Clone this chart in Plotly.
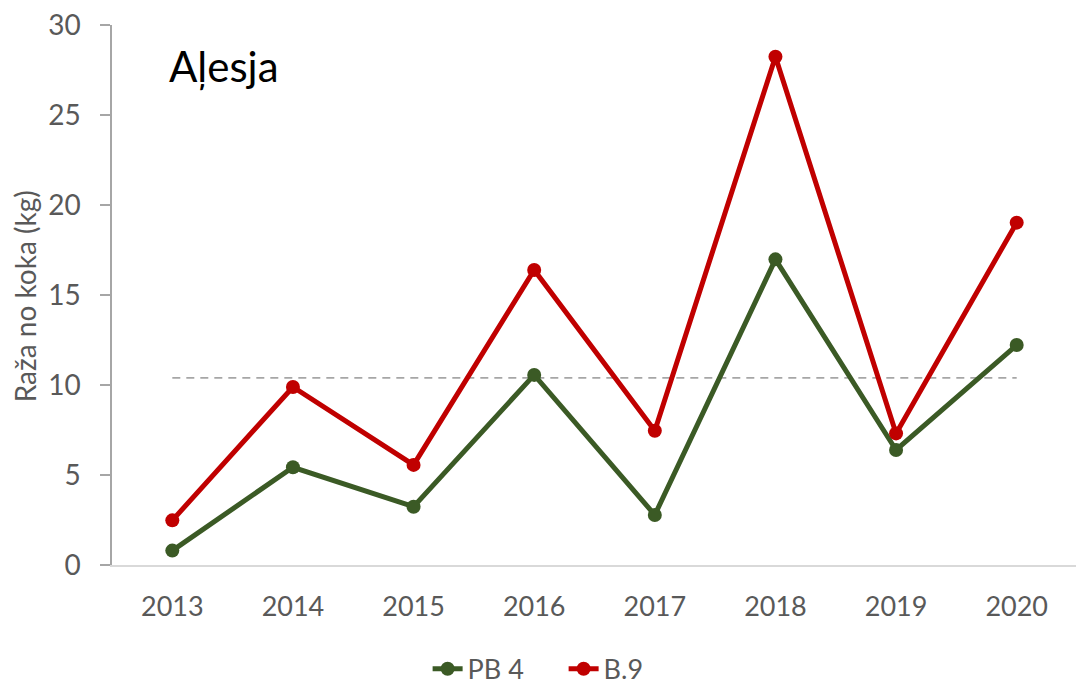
import plotly.graph_objects as go

years = ["2013", "2014", "2015", "2016", "2017", "2018", "2019", "2020"]
pb4 = [0.80, 5.43, 3.24, 10.56, 2.78, 16.98, 6.39, 12.22]
b9 = [2.48, 9.89, 5.56, 16.39, 7.46, 28.24, 7.31, 19.02]
avg_line = [10.4, 10.4, 10.4, 10.4, 10.4, 10.4, 10.4, 10.4]
y_ticks = [0, 5, 10, 15, 20, 25, 30]

FONT = "Lato"
GRAY = "#595959"
GREEN = "#3B5A25"
RED = "#C00000"

fig = go.Figure()
fig.add_trace(go.Scatter(x=years, y=avg_line, mode="lines", showlegend=False,
                         line=dict(color="#A6A6A6", width=1.75, dash="8px,6px"), hoverinfo="skip"))
fig.add_trace(go.Scatter(x=years, y=pb4, mode="lines+markers", name="PB 4",
                         line=dict(color=GREEN, width=5), marker=dict(size=14, color=GREEN)))
fig.add_trace(go.Scatter(x=years, y=b9, mode="lines+markers", name="B.9",
                         line=dict(color=RED, width=5), marker=dict(size=14, color=RED)))

fig.update_layout(
    width=1076, height=683,
    margin=dict(l=104, r=7, t=17, b=126, autoexpand=False),
    paper_bgcolor="white", plot_bgcolor="white",
    font=dict(family=FONT, color=GRAY),
    xaxis=dict(type="category", showgrid=False, showline=True, linecolor="#D9D9D9", linewidth=1.5,
               ticks="", tickfont=dict(size=27, color=GRAY), ticklabelstandoff=17,
               range=[-0.5, 7.5], zeroline=False, automargin=False),
    yaxis=dict(range=[0, 30], tickvals=y_ticks, showgrid=False, zeroline=False,
               showline=True, linecolor="#A6A6A6", linewidth=1.5,
               ticks="outside", ticklen=10, tickcolor="#A6A6A6", tickwidth=1.5,
               tickfont=dict(size=28, color=GRAY), ticklabelstandoff=14, automargin=False,
               ticklabeloverflow="allow"),
    legend=dict(orientation="h", x=0.468, xanchor="center", y=-0.193, yanchor="middle",
                font=dict(size=27, color=GRAY), traceorder="normal", entrywidth=91),
    annotations=[
        dict(text="Aļesja", xref="paper", yref="paper", x=0.057, y=0.924, xanchor="left", yanchor="middle",
             showarrow=False, font=dict(size=42, color="black", family=FONT)),
        dict(text="Raža no koka (kg)", xref="paper", yref="paper", x=-0.090, y=0.498,
             xanchor="center", yanchor="middle", textangle=-90, showarrow=False,
             font=dict(size=28, color=GRAY, family=FONT)),
    ],
)
fig.write_html("out.html")
